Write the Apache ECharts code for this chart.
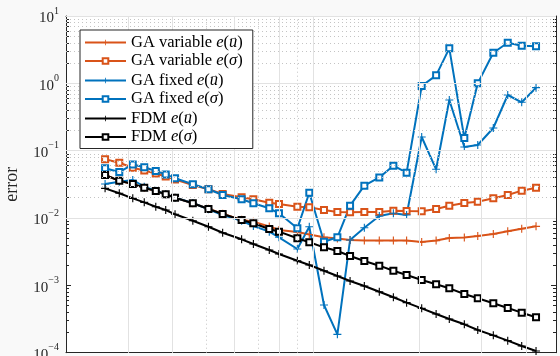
<!DOCTYPE html>
<html><head><meta charset="utf-8">
<script src="https://cdn.jsdelivr.net/npm/echarts@6/dist/echarts.min.js"></script>
<style>html,body{margin:0;padding:0;background:#f9f9f9}#c{width:560px;height:356px}</style>
</head><body><div id="c"></div>
<script>
// shared x positions (log scale)
const xs = [25.8, 28.3, 30.9, 33.3, 35.9, 38.3, 40.7, 45.7, 50.6, 55.5, 62.8, 67.8, 75.2, 80.1, 90.3, 97.6,
            107.4, 117.2, 127.3, 139.7, 154, 168.8, 184, 203, 223, 243, 268, 292.5, 323.7, 355.6, 389.5, 427.6];
const gaVarU = [0.0436, 0.0358, 0.0320, 0.0282, 0.0252, 0.0225, 0.0200, 0.0166, 0.0137, 0.0116, 0.0094,
                0.00881, 0.00748, 0.00664, 0.00620, 0.00569, 0.00517, 0.00497, 0.00472, 0.00464, 0.00462,
                0.00462, 0.00462, 0.00441, 0.00462, 0.00505, 0.00513, 0.00541, 0.00580, 0.00636, 0.00694, 0.00753];
const gaVarS = [0.0745, 0.0663, 0.0559, 0.0508, 0.0458, 0.0413, 0.0373, 0.0309, 0.0267, 0.0228, 0.0203,
                0.0190, 0.0169, 0.0162, 0.0147, 0.0144, 0.01315, 0.01228, 0.01216, 0.01228, 0.01228,
                0.01285, 0.0127, 0.01258, 0.01362, 0.01525, 0.0167, 0.01747, 0.01963, 0.02198, 0.02548, 0.0282];
const gaFixU = [0.0320, 0.0346, 0.0367, 0.0292, 0.0255, 0.0225, 0.0200, 0.0167, 0.0135, 0.0111, 0.00912,
                0.00762, 0.00627, 0.00517, 0.00347, 0.00743, 0.000511, 0.0001875, 0.00472, 0.00718, 0.01072,
                0.01175, 0.01109, 0.1596, 0.0529, 0.566, 0.1135, 0.1214, 0.217, 0.671, 0.523, 0.862];
const gaFixS = [0.0547, 0.0482, 0.0624, 0.0566, 0.0499, 0.0443, 0.0389, 0.0317, 0.0267, 0.0220, 0.0190,
                0.01655, 0.01394, 0.01174, 0.00703, 0.02376, 0.00445, 0.00517, 0.01524, 0.0302, 0.0400,
                0.0598, 0.0471, 0.913, 1.315, 3.31, 0.154, 1.00, 2.85, 4.01, 3.62, 3.55];
const fdmU = [0.0276, 0.0233, 0.0196, 0.0171, 0.0147, 0.01315, 0.01136, 0.00912, 0.00743, 0.00605, 0.00483,
              0.00411, 0.00335, 0.00292, 0.00232, 0.002005, 0.00165, 0.001377, 0.001161, 0.000978, 0.000805,
              0.000665, 0.000553, 0.000456, 0.000376, 0.000316, 0.000264, 0.000217, 0.000181, 0.000151, 0.000126, 0.000106];
const fdmS = [0.0436, 0.0358, 0.0320, 0.0282, 0.0252, 0.0225, 0.02004, 0.01656, 0.01362, 0.01148, 0.00935,
              0.00835, 0.00687, 0.00627, 0.00500, 0.00436, 0.00367, 0.00324, 0.00273, 0.00230, 0.00196,
              0.00165, 0.001426, 0.001202, 0.001038, 0.000904, 0.000745, 0.000643, 0.000542, 0.000461, 0.000393, 0.000336];

const seriesNames = ['GA variable e(u)', 'GA variable e(σ)', 'GA fixed e(u)', 'GA fixed e(σ)', 'FDM e(u)', 'FDM e(σ)'];
const yMajorTicks = [1e-4, 1e-3, 1e-2, 1e-1, 1, 10];
const yMinorTicks = [2e-4,3e-4,4e-4,5e-4,6e-4,7e-4,8e-4,9e-4, 2e-3,3e-3,4e-3,5e-3,6e-3,7e-3,8e-3,9e-3,
                     2e-2,3e-2,4e-2,5e-2,6e-2,7e-2,8e-2,9e-2, 0.2,0.3,0.4,0.5,0.6,0.7,0.8,0.9, 2,3,4,5,6,7,8,9];
const xMajorTicks = [30, 40, 60, 80, 100, 200, 300, 400];
const xMinorTicks = [30, 40, 50, 60, 70, 80, 90, 200, 300, 400];

const ORANGE = '#D95319', BLUE = '#0072BD', BLACK = '#000000';
const AX = '#262626';
const SERIF = 'Liberation Serif';
const plus = 'path://M-0.14,-1H0.14V-0.14H1V0.14H0.14V1H-0.14V0.14H-1V-0.14H-0.14Z';

function pairs(v) { return xs.map((x, i) => [x, v[i]]); }
function mk(name, vals, color, sym) {
  const isPlus = sym === 'plus';
  return {
    name, type: 'line', xAxisIndex: 0, yAxisIndex: 0, data: pairs(vals),
    symbol: isPlus ? plus : 'emptyRect', symbolSize: isPlus ? 8 : 6,
    showAllSymbol: true, animation: false,
    lineStyle: { color, width: 2 },
    itemStyle: isPlus ? { color } : { color, borderColor: color, borderWidth: 1.5 },
    emphasis: { disabled: true }, z: 3
  };
}

const gridLines = [];
xMinorTicks.forEach(v => gridLines.push({ xAxis: v, lineStyle: { color: '#c4c4c4', type: [1, 3], width: 1 } }));
yMinorTicks.forEach(v => gridLines.push({ yAxis: v, lineStyle: { color: '#c4c4c4', type: [1, 3], width: 1 } }));
xMajorTicks.forEach(v => gridLines.push({ xAxis: v, lineStyle: { color: '#e2e2e2', type: 'solid', width: 1 } }));
yMajorTicks.forEach(v => gridLines.push({ yAxis: v, lineStyle: { color: '#e2e2e2', type: 'solid', width: 1 } }));

const LH = 19, FS = 16.5;
const legendRich = {
  t: { fontFamily: SERIF, fontSize: FS, color: '#000', lineHeight: LH },
  i: { fontFamily: SERIF, fontSize: FS, fontStyle: 'italic', color: '#000', lineHeight: LH },
  a: { fontFamily: SERIF, fontSize: 9, color: '#000', width: 0.01, lineHeight: 8, verticalAlign: 'top' }
};
function legendFmt(name) {
  const m = name.match(/^(.*) e\((.)\)$/);
  const v = m[2] === 'u' ? '{a|\u2192}{i|u}' : '{i|σ}';
  return '{t|' + m[1] + ' }{i|e}{t|(}' + v + '{t|)}';
}

const rect = { left: 66, right: 4, top: 16, bottom: 3.3, outerBoundsMode: 'none', containLabel: false };
const X0 = 20, X1 = 487;
function xAx(pos, grid, ticks, show) {
  return { type: 'log', gridIndex: grid, position: pos, min: X0, max: X1,
    axisLine: { show: show, lineStyle: { color: AX, width: 1 } },
    axisTick: { show: !!ticks, inside: true, length: 5, customValues: ticks || undefined, lineStyle: { color: AX } },
    axisLabel: { show: false }, splitLine: { show: false } };
}
function yAx(pos, grid, ticks, len, labels, show) {
  const a = { type: 'log', gridIndex: grid, position: pos, min: 1e-4, max: 10,
    axisLine: { show: show, lineStyle: { color: AX, width: 1 } },
    axisTick: { show: true, inside: true, length: len, customValues: ticks, lineStyle: { color: AX } },
    axisLabel: { show: false }, splitLine: { show: false } };
  if (labels) {
    a.axisLabel = { show: true, margin: 7, customValues: yMajorTicks,
      formatter: v => { const e = Math.round(Math.log10(v)); return '{b|10}{s|' + (e < 0 ? '\u2212' + (-e) : e) + '}'; },
      rich: { b: { fontFamily: SERIF, fontSize: 15, color: AX, lineHeight: 20, verticalAlign: 'bottom' },
              s: { fontFamily: SERIF, fontSize: 10, color: AX, verticalAlign: 'top', lineHeight: 20 } } };
    a.name = 'error'; a.nameLocation = 'middle'; a.nameGap = 45;
    a.nameTextStyle = { fontFamily: SERIF, fontSize: 18, color: AX };
  }
  return a;
}

const chart = echarts.init(document.getElementById('c'), null, { renderer: 'canvas' });
chart.setOption({
  backgroundColor: '#f9f9f9',
  animation: false,
  grid: [Object.assign({ show: true, backgroundColor: '#ffffff', borderWidth: 0 }, rect), Object.assign({}, rect)],
  xAxis: [xAx('bottom', 0, xMajorTicks, true), xAx('top', 0, xMajorTicks, true), xAx('bottom', 1, null, false), xAx('top', 1, null, false)],
  yAxis: [yAx('left', 0, yMajorTicks, 5, true, true), yAx('right', 0, yMajorTicks, 5, false, true),
          yAx('left', 1, yMinorTicks, 3, false, false), yAx('right', 1, yMinorTicks, 3, false, false)],
  legend: {
    data: seriesNames, orient: 'vertical', left: 80, top: 30, z: 20,
    itemWidth: 41, itemHeight: 7, itemGap: 1.5,
    padding: [3, 10, 3, 4],
    backgroundColor: '#ffffff', borderColor: AX, borderWidth: 1,
    formatter: legendFmt, textStyle: { rich: legendRich }, selectedMode: false
  },
  series: [
    { type: 'line', name: '_grid', xAxisIndex: 0, yAxisIndex: 0, data: [], z: 1, silent: true,
      markLine: { silent: true, symbol: 'none', label: { show: false }, animation: false, data: gridLines } },
    mk(seriesNames[0], gaVarU, ORANGE, 'plus'),
    mk(seriesNames[1], gaVarS, ORANGE, 'rect'),
    mk(seriesNames[2], gaFixU, BLUE, 'plus'),
    mk(seriesNames[3], gaFixS, BLUE, 'rect'),
    mk(seriesNames[4], fdmU, BLACK, 'plus'),
    mk(seriesNames[5], fdmS, BLACK, 'rect')
  ]
});
</script>
</body></html>
